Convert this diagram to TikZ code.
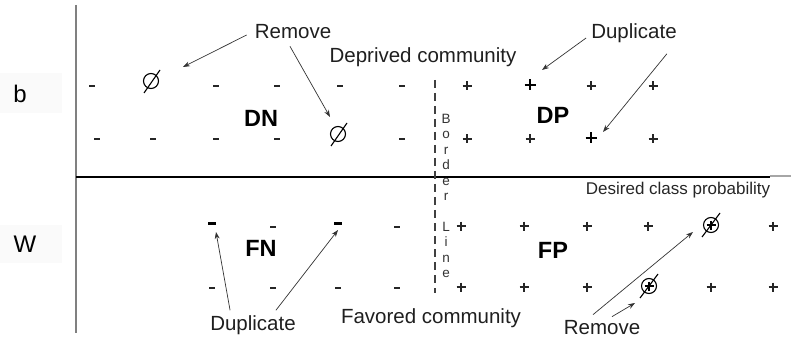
\documentclass[tikz,border=0pt]{standalone}
\usepackage{fontspec}
\setmainfont{Liberation Sans}
\usetikzlibrary{arrows.meta,calc}

\tikzset{
  lbl/.style={font=\fontsize{20.5}{24}\selectfont, inner sep=2pt, text=black!88},
  small/.style={font=\fontsize{17}{20}\selectfont, inner sep=2pt, text=black!85},
  quad/.style={font=\fontsize{23.5}{26}\selectfont\bfseries, inner sep=2pt},
  axislbl/.style={font=\fontsize{24}{28}\selectfont, inner sep=0pt},
  arr/.style={draw=black!80, line width=0.7pt, -{Stealth[length=7pt,width=5pt]}},
  pics/minus/.style={code={\draw[line width=1.1pt, black!85] (-3,0) -- (3,0);}},
  pics/bminus/.style={code={\draw[line width=3pt] (-4,0) -- (4,0);}},
  pics/plus/.style={code={\draw[line width=1.1pt, black!85] (-4.5,0) -- (4.5,0) (0,-4.5) -- (0,4.5);}},
  pics/bplus/.style={code={\draw[line width=2.6pt] (-5.5,0) -- (5.5,0) (0,-5.5) -- (0,5.5);}},
  pics/empty/.style={code={
    \draw[line width=1.1pt] (0,0) circle[radius=7.5];
    \draw[line width=1.1pt] (-7,12) -- (9,-11);}},
  pics/emptyplus/.style={code={
    \draw[line width=1.1pt] (0,0) circle[radius=7.5];
    \draw[line width=1.1pt] (-4.5,0) -- (4.5,0) (0,-4.5) -- (0,4.5);
    \draw[line width=1.1pt] (-9,12) -- (9,-12);}},
}

\begin{document}
\begin{tikzpicture}[x=1pt, y=-1pt]
\useasboundingbox (0,0) rectangle (791,347);

% row labels on faint panels
\fill[black!2] (0,73) rectangle (62,113);
\fill[black!2] (0,225) rectangle (62,263);
\node[axislbl] (rowb) at (20,94) {b};
\node[axislbl] (roww) at (25,244) {W};

% axes
\draw[black!50, line width=2pt] (75.5,5) -- (75.5,333);
\draw[black, line width=1.3pt] (76,177) -- (770,177);
\draw[black!35, line width=1.5pt] (770,176) -- (791,176);

% border line between the two classes
\draw[black!75, line width=1.2pt, dash pattern=on 8pt off 5pt] (435,80) -- (435,293);
\node[font=\fontsize{13.5}{15.4}\selectfont, align=center, inner sep=0pt, text=black!80]
  (border) at (446,196) {B\\o\\r\\d\\e\\r\\\strut\\L\\i\\n\\e};

% quadrant names
\node[quad] (DN) at (261,118) {DN};
\node[quad] (DP) at (553,115) {DP};
\node[quad] (FN) at (261,248) {FN};
\node[quad] (FP) at (553,250) {FP};

% community and class labels
\node[lbl] (depr) at (423,57) {Deprived community};
\node[lbl] (favo) at (431,318) {Favored community};
\node[small] (desc) at (678,190) {Desired class probability};

% deprived community, first row
\foreach \x [count=\i] in {92,216,277,340,402} \coordinate (da\i) at (\x,86);
\foreach \i in {1,...,5} \pic at (da\i) {minus};
\coordinate (za) at (151,81);  \pic at (za) {empty};
\foreach \x [count=\i] in {467,591,653} \coordinate (pa\i) at (\x,86);
\foreach \i in {1,2,3} \pic at (pa\i) {plus};
\coordinate (ba) at (530,85);  \pic at (ba) {bplus};

% deprived community, second row
\foreach \x [count=\i] in {97,153,216,277,402} \coordinate (db\i) at (\x,139);
\foreach \i in {1,...,5} \pic at (db\i) {minus};
\coordinate (zb) at (338,134); \pic at (zb) {empty};
\foreach \x [count=\i] in {467,530,653} \coordinate (pb\i) at (\x,139);
\foreach \i in {1,2,3} \pic at (pb\i) {plus};
\coordinate (bb) at (591,138); \pic at (bb) {bplus};

% favored community, first row
\coordinate (bm1) at (212,223); \pic at (bm1) {bminus};
\coordinate (bm2) at (338,223); \pic at (bm2) {bminus};
\foreach \x [count=\i] in {273,397} \coordinate (fa\i) at (\x,227);
\foreach \i in {1,2} \pic at (fa\i) {minus};
\foreach \x [count=\i] in {461,524,587,648,773} \coordinate (qa\i) at (\x,226);
\foreach \i in {1,...,5} \pic at (qa\i) {plus};
\coordinate (xa) at (711,225); \pic at (xa) {emptyplus};

% favored community, second row
\foreach \x [count=\i] in {212,273,338,397} \coordinate (fb\i) at (\x,288);
\foreach \i in {1,...,4} \pic at (fb\i) {minus};
\foreach \x [count=\i] in {461,524,587,711,773} \coordinate (qb\i) at (\x,287);
\foreach \i in {1,...,5} \pic at (qb\i) {plus};
\coordinate (xb) at (649,286); \pic at (xb) {emptyplus};

% action labels
\node[lbl] (remT) at (293,32) {Remove};
\node[lbl] (dupT) at (634,33) {Duplicate};
\node[lbl] (dupB) at (253,325) {Duplicate};
\node[lbl] (remB) at (602,328) {Remove};

% arrow tips
\coordinate (tA1) at (183,67);
\coordinate (tA2) at (330,117);
\coordinate (tA3) at (542,70);
\coordinate (tA4) at (603,132);
\coordinate (tA5) at (216,232);
\coordinate (tA6) at (338,230);
\coordinate (tA7) at (693,232);
\coordinate (tA8) at (635,303);

% arrows from the actions to the affected samples
\draw[arr] ($(remT.west)+(-6,3)$) -- (tA1);
\draw[arr] ($(remT.south)+(-3,5)$) -- (tA2);
\draw[arr] ($(dupT.west)+(-3,5)$) -- (tA3);
\draw[arr] ($(dupT.south east)+(-12,9)$) -- (tA4);
\draw[arr] ($(dupB.north west)+(22,-3)$) -- (tA5);
\draw[arr] ($(dupB.north east)+(-22,-3)$) -- (tA6);
\draw[arr] ($(remB.north)+(-9,-4)$) -- (tA7);
\draw[arr] ($(remB.north)+(10,-2)$) -- (tA8);
\end{tikzpicture}
\end{document}
